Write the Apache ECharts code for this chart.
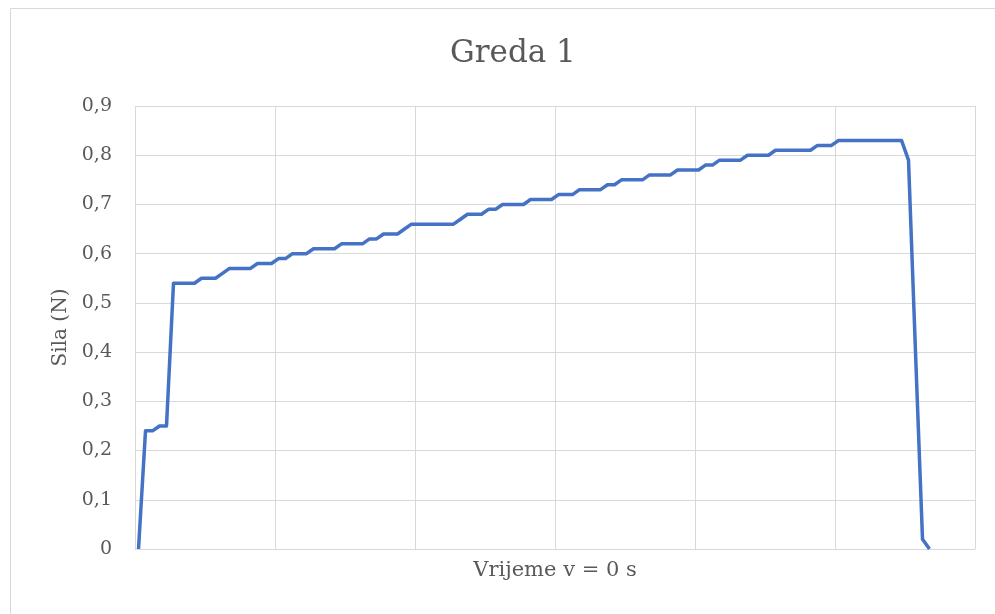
<!DOCTYPE html>
<html>
<head>
<meta charset="utf-8">
<title>Greda 1</title>
<script src="https://cdn.jsdelivr.net/npm/echarts@6/dist/echarts.min.js"></script>
<style>
  html, body { margin: 0; padding: 0; background: #fff; }
  #chart { width: 995px; height: 614px; }
</style>
</head>
<body>
<div id="chart"></div>
<script>
// sila (N), jedan uzorak po koraku vremena
const sila = [
  0, 0.24, 0.24, 0.25, 0.25,
  0.54, 0.54, 0.54, 0.54, 0.55, 0.55, 0.55, 0.56,
  0.57, 0.57, 0.57, 0.57, 0.58, 0.58, 0.58, 0.59, 0.59,
  0.60, 0.60, 0.60, 0.61, 0.61, 0.61, 0.61, 0.62, 0.62, 0.62, 0.62,
  0.63, 0.63, 0.64, 0.64, 0.64, 0.65,
  0.66, 0.66, 0.66, 0.66, 0.66, 0.66, 0.66, 0.67,
  0.68, 0.68, 0.68, 0.69, 0.69,
  0.70, 0.70, 0.70, 0.70, 0.71, 0.71, 0.71, 0.71,
  0.72, 0.72, 0.72, 0.73, 0.73, 0.73, 0.73, 0.74, 0.74,
  0.75, 0.75, 0.75, 0.75, 0.76, 0.76, 0.76, 0.76,
  0.77, 0.77, 0.77, 0.77, 0.78, 0.78,
  0.79, 0.79, 0.79, 0.79, 0.80, 0.80, 0.80, 0.80,
  0.81, 0.81, 0.81, 0.81, 0.81, 0.81, 0.82, 0.82, 0.82,
  0.83, 0.83, 0.83, 0.83, 0.83, 0.83, 0.83, 0.83, 0.83, 0.83,
  0.79, 0.40, 0.02, 0
];

// os vremena ima 120 mjesta, mreza svakih 20
const brojKoraka = 120;
const koraci = Array.from({ length: brojKoraka }, (_, i) => String(i + 1));
const yTicks = [0, 0.1, 0.2, 0.3, 0.4, 0.5, 0.6, 0.7, 0.8, 0.9];

const font = 'DejaVu Serif';
const grey = '#595959';
const gridColor = '#d9d9d9';

const chart = echarts.init(document.getElementById('chart'));

chart.setOption({
  animation: false,
  title: {
    text: 'Greda 1',
    left: 445,
    top: 33,
    textStyle: { fontFamily: font, fontSize: 31, fontWeight: 'normal', color: grey }
  },
  graphic: [{
    type: 'rect',
    shape: { x: 10.5, y: 8.5, width: 990, height: 620 },
    style: { fill: 'none', stroke: gridColor, lineWidth: 1 },
    silent: true
  }],
  grid: { left: 135, right: 20, top: 106, bottom: 65, containLabel: false },
  xAxis: {
    type: 'category',
    data: koraci,
    boundaryGap: true,
    name: 'Vrijeme v = 0 s',
    nameLocation: 'middle',
    nameGap: 11,
    nameTextStyle: { fontFamily: font, fontSize: 21, color: grey, verticalAlign: 'top' },
    axisLine: { show: true, lineStyle: { color: gridColor, width: 1 } },
    axisTick: { show: false },
    axisLabel: { show: false },
    splitLine: { show: true, interval: 19, lineStyle: { color: gridColor, width: 1 } }
  },
  yAxis: {
    type: 'value',
    min: yTicks[0],
    max: yTicks[yTicks.length - 1],
    interval: 0.1,
    name: 'Sila (N)',
    nameLocation: 'middle',
    nameGap: 63,
    nameRotate: 90,
    nameTextStyle: { fontFamily: font, fontSize: 20, color: grey },
    axisLine: { show: false },
    axisTick: { show: false },
    axisLabel: {
      fontFamily: font,
      fontSize: 19,
      color: grey,
      margin: 23,
      formatter: v => (Math.round(v * 10) / 10).toString().replace('.', ',')
    },
    splitLine: { show: true, lineStyle: { color: gridColor, width: 1 } }
  },
  series: [{
    type: 'line',
    data: sila,
    showSymbol: false,
    symbol: 'none',
    lineStyle: { color: '#4472c4', width: 3.5, join: 'round' },
    itemStyle: { color: '#4472c4' }
  }]
});
</script>
</body>
</html>
